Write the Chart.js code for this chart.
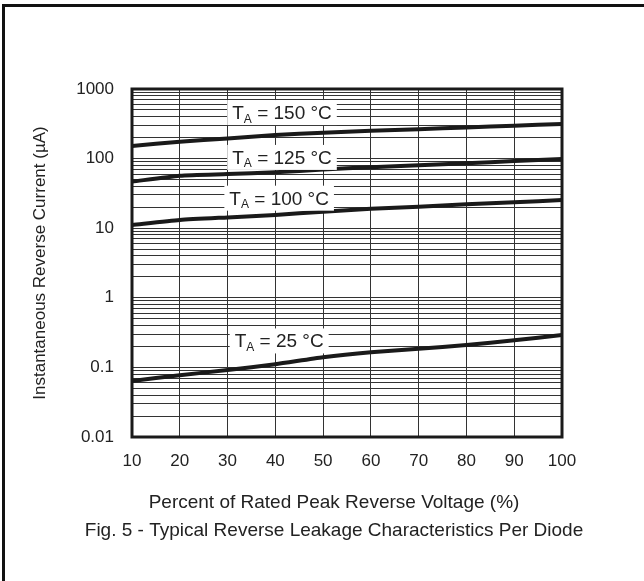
<!DOCTYPE html>
<html>
<head>
<meta charset="utf-8">
<title>Fig. 5 - Typical Reverse Leakage Characteristics Per Diode</title>
<script src="https://cdn.jsdelivr.net/npm/chart.js@4.4.1/dist/chart.umd.min.js"></script>
<style>
  html, body { margin: 0; padding: 0; background: #fff; }
  #wrap { position: relative; width: 644px; height: 581px; overflow: hidden; }
  #frame { position: absolute; left: 2px; top: 4px; right: -10px; bottom: -10px;
           border-left: 3px solid #111; border-top: 3px solid #111; pointer-events: none; }
  canvas { position: absolute; left: 0; top: 0; }
</style>
</head>
<body>
<div id="wrap">
  <canvas id="leakage" width="644" height="581"></canvas>
  <div id="frame"></div>
</div>
<script>
/* --------------- Data --------------------- */
const voltagePct = [10, 20, 30, 40, 50, 60, 70, 80, 90, 100];
const temps = [150, 125, 100, 25];

const current150 = [152, 175, 195, 218, 235, 251, 265, 280, 297, 314];
const current125 = [46.6, 56.8, 60, 63.5, 69.6, 75.3, 80.5, 86, 92, 98.6];
const current100 = [11.1, 13.1, 14.3, 15.5, 17.3, 19, 20.4, 22, 23.6, 25.4];
const current25 = [0.064, 0.077, 0.092, 0.111, 0.14, 0.165, 0.185, 0.21, 0.245, 0.292];

const decadeTicks = [0.01, 0.1, 1, 10, 100, 1000];
const decadeLabels = ["0.01", "0.1", "1", "10", "100", "1000"];

const xTitle = "Percent of Rated Peak Reverse Voltage (%)";
const yTitle = "Instantaneous Reverse Current (\u00B5A)";
const caption = "Fig. 5 - Typical Reverse Leakage Characteristics Per Diode";

// where each T_A tag sits, in data units (x %, y µA)
const tagSpots = [
  { x: 41.4, y: 459 },
  { x: 41.4, y: 104 },
  { x: 40.8, y: 27 },
  { x: 40.8, y: 0.24 },
];

/* --------------- Log grid (1..9 per decade) --------------------- */
const gridValues = [];
for (let i = 0; i < decadeTicks.length - 1; i++) {
  for (let k = 1; k < 10; k++) {
    gridValues.push(Number((decadeTicks[i] * k).toPrecision(3)));
  }
}
gridValues.push(decadeTicks[decadeTicks.length - 1]);

const labelFor = (v) => {
  const i = decadeTicks.findIndex((d) => Math.abs(d - v) < d * 1e-6);
  return i >= 0 ? decadeLabels[i] : "";
};

const FONT = '"Liberation Sans", Arial, Helvetica, sans-serif';
const INK = "#222";

/* --------------- Plot frame --------------------- */
const framePlugin = {
  id: "plotFrame",
  beforeDatasetsDraw(chart) {
    const { ctx, chartArea: a } = chart;
    ctx.save();
    ctx.strokeStyle = "#1a1a1a";
    ctx.lineWidth = 3;
    ctx.strokeRect(a.left, a.top, a.right - a.left, a.bottom - a.top);
    ctx.restore();
  },
};

/* --------------- T_A tags --------------------- */
const tagPlugin = {
  id: "tempTags",
  afterDatasetsDraw(chart) {
    const { ctx } = chart;
    const { x, y } = chart.scales;
    const big = "19px " + FONT;
    const small = "12px " + FONT;
    ctx.save();
    temps.forEach((t, i) => {
      const cx = x.getPixelForValue(tagSpots[i].x);
      const cy = y.getPixelForValue(tagSpots[i].y);
      const rest = " = " + t + " \u00B0C";
      ctx.font = big;
      const wT = ctx.measureText("T").width;
      const wR = ctx.measureText(rest).width;
      ctx.font = small;
      const wA = ctx.measureText("A").width;
      const w = wT + wA + wR;
      ctx.fillStyle = "#fff";
      ctx.fillRect(cx - w / 2 - 5, cy - 12.5, w + 10, 25);
      ctx.fillStyle = INK;
      ctx.textBaseline = "alphabetic";
      ctx.textAlign = "left";
      let px = cx - w / 2;
      ctx.font = big;
      ctx.fillText("T", px, cy + 6.5);
      px += wT;
      ctx.font = small;
      ctx.fillText("A", px, cy + 10);
      px += wA;
      ctx.font = big;
      ctx.fillText(rest, px, cy + 6.5);
    });
    ctx.restore();
  },
};

/* --------------- X title and caption under the plot --------------------- */
const captionPlugin = {
  id: "bottomText",
  afterDraw(chart) {
    const { ctx, chartArea: a } = chart;
    const cx = chart.width / 2 + 12;
    ctx.save();
    ctx.fillStyle = INK;
    ctx.textAlign = "center";
    ctx.textBaseline = "middle";
    ctx.font = "19px " + FONT;
    ctx.fillText(xTitle, cx, a.bottom + 66);
    ctx.fillText(caption, cx, a.bottom + 94);
    ctx.restore();
  },
};

/* --------------- Chart --------------------- */
const series = [current150, current125, current100, current25];

new Chart(document.getElementById("leakage"), {
  type: "line",
  plugins: [framePlugin, tagPlugin, captionPlugin],
  data: {
    datasets: series.map((vals, i) => ({
      label: "TA = " + temps[i] + " °C",
      data: voltagePct.map((v, j) => ({ x: v, y: vals[j] })),
      borderColor: "#1a1a1a",
      borderWidth: 4,
      pointRadius: 0,
      tension: 0.2,
      fill: false,
    })),
  },
  options: {
    responsive: false,
    devicePixelRatio: 1,
    animation: false,
    layout: { padding: { top: 89, right: 82, left: 0, bottom: 0 } },
    plugins: {
      legend: { display: false },
      tooltip: { enabled: false },
    },
    scales: {
      x: {
        type: "linear",
        min: 10,
        max: 100,
        afterFit: (s) => { s.height = 144; },
        border: { display: false },
        grid: { color: "#333", lineWidth: 1, drawTicks: false },
        ticks: { stepSize: 10, padding: 14, color: INK, font: { family: FONT, size: 17 } },
      },
      y: {
        type: "logarithmic",
        min: 0.01,
        max: 1000,
        afterFit: (s) => { s.width = 132; },
        afterBuildTicks: (s) => { s.ticks = gridValues.map((v) => ({ value: v })); },
        border: { display: false },
        grid: { color: "#333", lineWidth: 1, drawTicks: false },
        ticks: {
          autoSkip: false,
          padding: 18,
          color: INK,
          font: { family: FONT, size: 17 },
          callback: (v) => labelFor(v),
        },
        title: {
          display: true,
          text: yTitle,
          color: INK,
          font: { family: FONT, size: 17 },
          padding: { top: 30, bottom: 0 },
        },
      },
    },
  },
});
</script>
</body>
</html>
